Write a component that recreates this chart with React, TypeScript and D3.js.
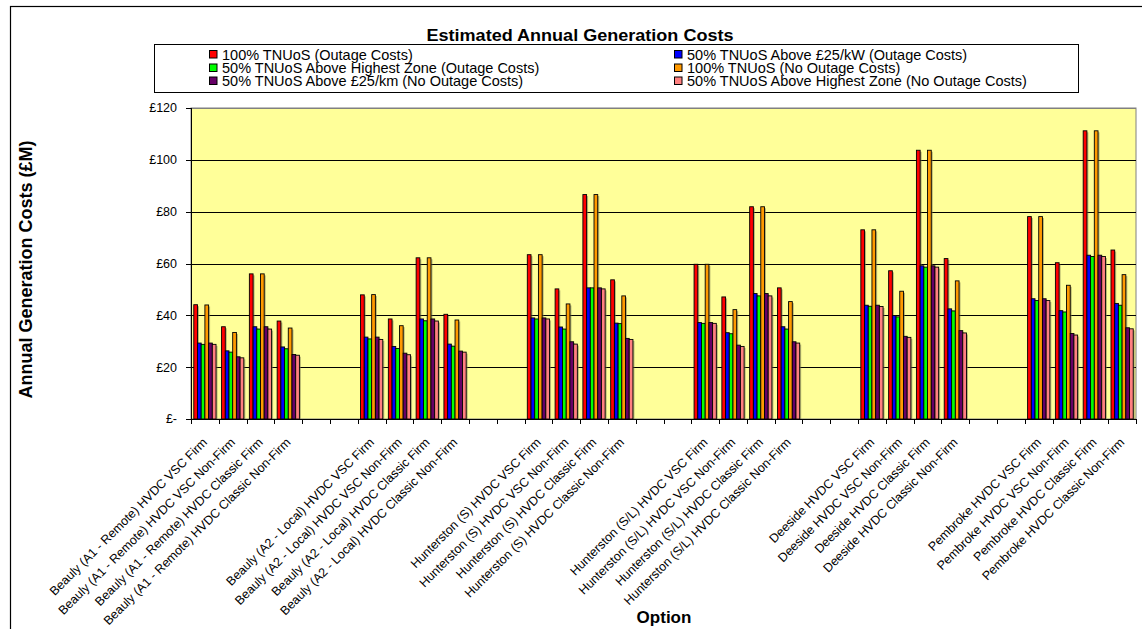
import React from "react";
import * as d3 from "d3";

const categories: string[] = [
  "Beauly (A1 - Remote) HVDC VSC Firm",
  "Beauly (A1 - Remote) HVDC VSC Non-Firm",
  "Beauly (A1 - Remote) HVDC Classic Firm",
  "Beauly (A1 - Remote) HVDC Classic Non-Firm",
  "",
  "",
  "Beauly (A2 - Local) HVDC VSC Firm",
  "Beauly (A2 - Local) HVDC VSC Non-Firm",
  "Beauly (A2 - Local) HVDC Classic Firm",
  "Beauly (A2 - Local) HVDC Classic Non-Firm",
  "",
  "",
  "Hunterston (S) HVDC VSC Firm",
  "Hunterston (S) HVDC VSC Non-Firm",
  "Hunterston (S) HVDC Classic Firm",
  "Hunterston (S) HVDC Classic Non-Firm",
  "",
  "",
  "Hunterston (S/L) HVDC VSC Firm",
  "Hunterston (S/L) HVDC VSC Non-Firm",
  "Hunterston (S/L) HVDC Classic Firm",
  "Hunterston (S/L) HVDC Classic Non-Firm",
  "",
  "",
  "Deeside HVDC VSC Firm",
  "Deeside HVDC VSC Non-Firm",
  "Deeside HVDC Classic Firm",
  "Deeside HVDC Classic Non-Firm",
  "",
  "",
  "Pembroke HVDC VSC Firm",
  "Pembroke HVDC VSC Non-Firm",
  "Pembroke HVDC Classic Firm",
  "Pembroke HVDC Classic Non-Firm",
];

const seriesNames: string[] = [
  "100% TNUoS (Outage Costs)",
  "50% TNUoS Above £25/kW (Outage Costs)",
  "50% TNUoS Above Highest Zone (Outage Costs)",
  "100% TNUoS (No Outage Costs)",
  "50% TNUoS Above £25/km (No Outage Costs)",
  "50% TNUoS Above Highest Zone (No Outage Costs)",
];

const seriesColors: string[] = ["#FF0000", "#0000FF", "#00FF00", "#FF9900", "#660066", "#FF8080"];

const full100Outage: (number | null)[] = [44.1, 35.6, 56, 37.8, null, null, 47.9, 38.6, 62.2, 40.4, null, null, 63.4, 50.2, 86.6, 53.7, null, null, 59.7, 47.1, 81.9, 50.6, null, null, 73, 57.2, 103.7, 61.9, null, null, 78.1, 60.3, 111.2, 65.2];
const half25kWOutage: (number | null)[] = [29.3, 26.3, 35.6, 27.8, null, null, 31.6, 28, 38.6, 28.9, null, null, 39, 35.5, 50.6, 37, null, null, 37.2, 33.3, 48.4, 35.6, null, null, 43.9, 39.9, 59.1, 42.5, null, null, 46.4, 41.8, 63.2, 44.6];
const halfHighestOutage: (number | null)[] = [28.8, 25.8, 34.7, 27.1, null, null, 30.9, 27.2, 37.9, 28.1, null, null, 38.6, 34.7, 50.6, 36.8, null, null, 36.9, 32.9, 47.5, 34.7, null, null, 43.5, 39.4, 58.6, 41.7, null, null, 45.7, 41.3, 62.7, 43.9];
const full100NoOutage: (number | null)[] = [44, 33.4, 56, 35.1, null, null, 48, 36, 62.2, 38.2, null, null, 63.4, 44.4, 86.6, 47.5, null, null, 59.7, 42.2, 81.9, 45.3, null, null, 73, 49.3, 103.7, 53.3, null, null, 78.1, 51.6, 111.2, 55.7];
const half25kmNoOutage: (number | null)[] = [29.3, 24, 35.6, 24.9, null, null, 31.6, 25.4, 38.6, 26.2, null, null, 39, 29.8, 50.6, 31.1, null, null, 37.2, 28.5, 48.4, 29.8, null, null, 43.9, 31.9, 59.1, 34.1, null, null, 46.4, 33, 63.2, 35.2];
const halfHighestNoOutage: (number | null)[] = [28.8, 23.6, 34.7, 24.6, null, null, 30.7, 24.8, 37.8, 25.8, null, null, 38.6, 28.9, 50.2, 30.7, null, null, 36.9, 28, 47.5, 29.3, null, null, 43.4, 31.5, 58.6, 33.2, null, null, 45.7, 32.4, 62.7, 34.8];

const yTicks: number[] = [0, 20, 40, 60, 80, 100, 120];
const yTickLabels: string[] = ["£-", "£20", "£40", "£60", "£80", "£100", "£120"];

const seriesValues = [full100Outage, half25kWOutage, halfHighestOutage, full100NoOutage, half25kmNoOutage, halfHighestNoOutage];

export default function App() {
  const W = 1142;
  const H = 629;
  const left = 191;
  const right = 1136;
  const top = 108;
  const bottom = 419;

  const x = d3
    .scaleBand<number>()
    .domain(d3.range(categories.length))
    .range([left, right])
    .paddingInner(0)
    .paddingOuter(0);
  const xs = d3
    .scaleBand<number>()
    .domain(d3.range(seriesNames.length))
    .range([0, x.bandwidth()])
    .paddingInner(0)
    .paddingOuter(0.75);
  const y = d3.scaleLinear().domain([0, 120]).range([bottom, top]);

  const font = "Arial, 'Liberation Sans', Helvetica, sans-serif";

  const bars: React.ReactNode[] = [];
  const shadows: React.ReactNode[] = [];
  seriesValues.forEach((vals, si) => {
    vals.forEach((v, ci) => {
      if (v == null) return;
      const bx = (x(ci) as number) + (xs(si) as number);
      const by = y(v);
      const bw = xs.bandwidth();
      const bh = y(0) - by;
      shadows.push(
        <rect key={`s${si}-${ci}`} x={bx + 1.5} y={by + 1.5} width={bw} height={bh} fill="#7a7a50" opacity={0.55} />
      );
      bars.push(
        <rect
          key={`b${si}-${ci}`}
          x={bx}
          y={by}
          width={bw}
          height={bh}
          fill={seriesColors[si]}
          stroke="#000"
          strokeWidth={0.9}
        />
      );
    });
  });

  const legendRows = [54.5, 68, 81];
  const legendCols = [209, 674];

  return (
    <svg
      width={W}
      height={H}
      style={{ position: "absolute", left: 0, top: 0, background: "#fff" }}
      fontFamily={font}
    >
      <defs>
        <clipPath id="plotclip">
          <rect x={left} y={top - 5} width={right - left + 5} height={bottom - top + 5} />
        </clipPath>
      </defs>
      <rect x={10.5} y={6.5} width={1200} height={700} fill="#fff" stroke="#000" strokeWidth={1.2} />

      {/* title */}
      <text x={580} y={41} textAnchor="middle" fontWeight="bold" fontSize={16} textLength={307} lengthAdjust="spacingAndGlyphs">
        Estimated Annual Generation Costs
      </text>

      {/* legend */}
      <rect x={154.5} y={44.5} width={924} height={48} fill="#fff" stroke="#000" strokeWidth={1} />
      {seriesNames.map((name, i) => {
        const col = i % 2;
        const row = Math.floor(i / 2);
        const lx = legendCols[col];
        const ly = legendRows[row];
        return (
          <g key={`lg${i}`}>
            <rect x={lx + 0.5} y={ly - 4} width={7.5} height={7.5} fill={seriesColors[i]} stroke="#000" strokeWidth={1} />
            <text x={lx + 13} y={ly + 5} fontSize={14.5}>
              {name}
            </text>
          </g>
        );
      })}

      {/* plot area */}
      <rect x={left} y={top} width={right - left} height={bottom - top} fill="#FFFF99" stroke="#808080" strokeWidth={1} />
      {yTicks.slice(1).map((t) => (
        <line key={`g${t}`} x1={left} x2={right} y1={Math.round(y(t)) + 0.5} y2={Math.round(y(t)) + 0.5} stroke={t === 120 ? "#808080" : "#000"} strokeWidth={1} />
      ))}

      <g clipPath="url(#plotclip)">{shadows}</g>
      <g>{bars}</g>

      {/* y axis */}
      <line x1={left + 0.5} x2={left + 0.5} y1={top} y2={bottom} stroke="#000" strokeWidth={1} />
      {yTicks.map((t, i) => (
        <g key={`yt${t}`}>
          <line x1={left - 5} x2={left} y1={Math.round(y(t)) + 0.5} y2={Math.round(y(t)) + 0.5} stroke="#000" />
          <text x={177} y={y(t)} dy="0.35em" textAnchor="end" fontSize={12.5}>
            {yTickLabels[i]}
          </text>
        </g>
      ))}

      {/* x axis */}
      <line x1={left} x2={right} y1={bottom + 0.5} y2={bottom + 0.5} stroke="#000" strokeWidth={1} />
      {d3.range(categories.length + 1).map((k) => {
        const tx = k < categories.length ? (x(k) as number) : right;
        return <line key={`xt${k}`} x1={Math.round(tx) + 0.5} x2={Math.round(tx) + 0.5} y1={bottom} y2={bottom + 5} stroke="#000" />;
      })}
      {categories.map((c, i) =>
        c ? (
          <text
            key={`xl${i}`}
            transform={`translate(${(x(i) as number) + x.bandwidth() / 2},440) rotate(-45)`}
            textAnchor="end"
            dy="0.35em"
            fontSize={12.5}
          >
            {c}
          </text>
        ) : null
      )}

      {/* axis titles */}
      <text
        transform={`translate(32,${(top + bottom) / 2 + 6}) rotate(-90)`}
        textAnchor="middle"
        fontWeight="bold"
        fontSize={18}
      >
        Annual Generation Costs (£M)
      </text>
      <text x={664} y={623} textAnchor="middle" fontWeight="bold" fontSize={17}>
        Option
      </text>
    </svg>
  );
}
